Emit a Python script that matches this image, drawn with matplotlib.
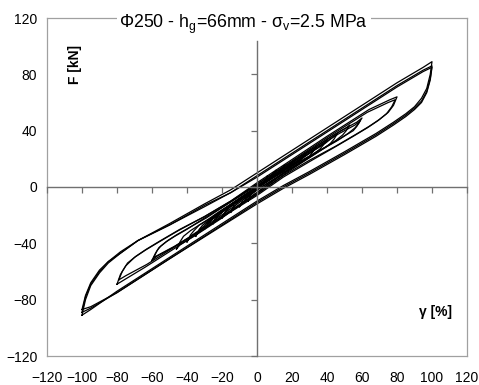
#hysteresis loops F vs shear strain, elastomeric bearing test
import matplotlib.pyplot as plt

plt.rcParams['font.family'] = ['Liberation Sans', 'DejaVu Sans']
plt.rcParams['mathtext.fontset'] = 'custom'
plt.rcParams['mathtext.rm'] = 'Liberation Sans'
plt.rcParams['mathtext.it'] = 'Liberation Sans:italic'

xticks = [-120, -100, -80, -60, -40, -20, 0, 20, 40, 60, 80, 100, 120]
yticks = [-120, -80, -40, 0, 40, 80, 120]

#cycles, gamma [%] and F [kN]: loading branch then unloading branch
x_100 = [-100, -98, -95, -90, -85, -78, -68, -50, -30, -15, 0, 50, 80, 95, 100,
         100, 99, 97, 94, 90, 85, 78, 68, 50, 30, 15, 0, -50, -80, -95, -100]
f_100a = [-91, -80, -70, -61, -54, -47, -38, -26, -12, -2, 10, 50, 74, 85, 89,
          89, 80, 70, 63, 57, 52, 46, 38, 25, 11, 1, -10, -50, -74, -87, -91]
f_100b = [-89, -78, -69, -60, -53, -47, -38, -27, -13, -4, 8, 48, 72, 83, 86,
          86, 77, 68, 61, 56, 51, 45, 37, 24, 10, 0, -11, -51, -75, -86, -89]
f_100c = [-87, -77, -68, -59, -53, -46, -38, -27, -14, -4, 7, 47, 71, 82, 85,
          85, 76, 67, 60, 55, 50, 44, 36, 23, 9, -1, -12, -51, -75, -85, -87]

x_80a = [-80, -78, -75, -70, -64, -56, -45, -30, -15, 0, 40, 64, 76, 80,
         80, 78, 75, 70, 64, 56, 45, 30, 15, 0, -40, -64, -76, -80]
f_80a = [-69, -62, -56, -50, -45, -39, -31, -21, -10, 3, 36, 55, 62, 64,
         64, 58, 53, 48, 43, 37, 29, 19, 8, -5, -38, -57, -66, -69]
x_80b = [-79, -77, -74, -69, -63, -55, -44, -30, -15, 0, 40, 63, 75, 79,
         79, 77, 74, 69, 63, 55, 44, 30, 15, 0, -40, -63, -75, -79]
f_80b = [-66, -60, -54, -49, -44, -38, -30, -21, -10, 2, 35, 53, 60, 62,
         62, 57, 52, 47, 42, 36, 28, 18, 7, -6, -37, -55, -63, -66]

x_60a = [-60, -58, -56, -52, -47, -40, -30, -18, 0, 30, 48, 57, 60,
         60, 58, 56, 52, 47, 40, 30, 18, 0, -30, -48, -57, -60]
f_60a = [-52, -47, -43, -39, -35, -30, -22, -13, 2, 26, 40, 46, 49,
         49, 45, 42, 38, 34, 29, 21, 12, -4, -29, -43, -49, -52]
x_60b = [-59, -57, -55, -51, -46, -39, -29, -18, 0, 30, 47, 56, 59,
         59, 57, 55, 51, 46, 39, 29, 18, 0, -30, -47, -56, -59]
f_60b = [-50, -45, -42, -38, -34, -29, -22, -13, 1, 25, 38, 44, 47,
         47, 43, 40, 37, 33, 28, 20, 11, -5, -29, -42, -48, -50]

x_50 = [-46, -44, -42, -38, -33, -26, -17, -6, 5, 28, 44, 51, 53,
        53, 51, 49, 45, 40, 33, 24, 13, 2, -20, -36, -44, -46]
f_50 = [-44, -39, -35, -31, -27, -22, -14, -5, 5, 24, 37, 42, 44,
        44, 40, 37, 33, 29, 24, 17, 8, -2, -22, -35, -41, -44]

x_40 = [-40, -38, -36, -33, -28, -21, -12, -2, 7, 26, 39, 44, 46,
        46, 44, 42, 39, 34, 27, 18, 8, -1, -18, -31, -38, -40]
f_40 = [-39, -34, -31, -27, -23, -17, -10, -2, 6, 21, 31, 36, 38,
        38, 34, 31, 28, 25, 19, 12, 4, -3, -18, -29, -35, -39]

x_35 = [-35, -33, -31, -28, -24, -17, -9, 0, 8, 24, 35, 39, 40,
        40, 38, 36, 33, 29, 22, 14, 5, -3, -17, -28, -33, -35]
f_35 = [-35, -30, -27, -24, -20, -14, -7, 0, 6, 19, 28, 32, 34,
        34, 30, 27, 24, 21, 15, 9, 2, -4, -15, -25, -31, -35]

x_30 = [-30, -28, -26, -23, -19, -13, -6, 2, 9, 22, 30, 33, 34,
        34, 32, 30, 27, 23, 17, 10, 2, -5, -16, -24, -28, -30]
f_30 = [-30, -26, -23, -20, -16, -11, -5, 1, 7, 17, 24, 27, 29,
        29, 25, 22, 20, 17, 12, 7, 1, -5, -14, -21, -26, -30]

x_25 = [-25, -23, -21, -18, -14, -8, -2, 4, 10, 18, 25, 27, 28,
        28, 26, 24, 21, 17, 11, 5, -1, -7, -14, -20, -24, -25]
f_25 = [-26, -22, -19, -16, -12, -7, -2, 3, 8, 14, 20, 22, 24,
        24, 21, 18, 16, 13, 9, 4, -1, -6, -12, -18, -22, -26]

x_20 = [-20, -18, -16, -13, -9, -5, 0, 5, 10, 15, 20, 22,
        22, 20, 18, 15, 11, 7, 2, -3, -8, -13, -18, -20]
f_20 = [-22, -18, -15, -12, -8, -4, 0, 4, 8, 12, 17, 20,
        20, 17, 14, 12, 8, 5, 1, -3, -7, -11, -17, -22]

x_15 = [-15, -13, -11, -8, -5, 0, 5, 10, 14, 16,
        16, 14, 12, 9, 6, 1, -4, -9, -13, -15]
f_15 = [-18, -14, -11, -8, -5, 0, 4, 8, 12, 16,
        16, 13, 10, 7, 4, 0, -4, -8, -12, -18]

x_10 = [-10, -8, -6, -3, 0, 4, 8, 11, 11, 9, 7, 4, 0, -4, -8, -10]
f_10 = [-14, -11, -8, -5, -1, 3, 7, 12, 12, 9, 6, 3, -2, -5, -9, -14]

x_5 = [-5, -4, -1, 2, 5, 6, 6, 5, 2, -1, -4, -5]
f_5 = [-10, -6, -3, 1, 5, 8, 8, 4, 1, -2, -6, -10]

loops = [(x_100, f_100a), (x_100, f_100b), (x_100, f_100c), (x_80a, f_80a), (x_80b, f_80b),
         (x_60a, f_60a), (x_60b, f_60b), (x_50, f_50), (x_40, f_40), (x_35, f_35), (x_30, f_30),
         (x_25, f_25), (x_20, f_20), (x_15, f_15), (x_10, f_10), (x_5, f_5)]

fig = plt.figure(figsize=(4.79, 3.85), dpi=100)
pos = [47/479, 29/385, 420/479, 338/385]

#outer frame with the tick labels
ax = fig.add_axes(pos)
ax.set_xlim(-120, 120)
ax.set_ylim(-120, 120)
ax.set_xticks(xticks)
ax.set_yticks(yticks)
ax.tick_params(length=0, labelsize=10, colors='black')
ax.tick_params(axis='x', pad=11)
ax.tick_params(axis='y', pad=7)
for s in ax.spines.values():
    s.set_color('#a0a0a0')
    s.set_linewidth(0.9)

for xs, fs in loops:
    ax.plot(xs, fs, color='black', lw=0.9)

#axes crossing at zero
ax2 = fig.add_axes(pos)
ax2.set_xlim(-120, 120)
ax2.set_ylim(-120, 120)
ax2.patch.set_visible(False)
ax2.spines['top'].set_visible(False)
ax2.spines['right'].set_visible(False)
ax2.spines['left'].set_position(('data', 0))
ax2.spines['bottom'].set_position(('data', 0))
ax2.spines['left'].set_bounds(-120, 104)
for s in ['left', 'bottom']:
    ax2.spines[s].set_color('#707070')
    ax2.spines[s].set_linewidth(1.0)
ax2.set_xticks(xticks)
ax2.set_yticks(yticks[:-1])
ax2.tick_params(direction='out', length=4, width=0.9, color='#707070', labelbottom=False, labelleft=False)

ax2.text(-7.5, 115.5, r'Φ250 - h$_\mathregular{g}$=66mm - σ$_\mathregular{v}$=2.5 MPa', fontsize=12.8,
         ha='center', va='center', bbox=dict(facecolor='white', edgecolor='none', pad=2))
ax2.text(-104, 87, 'F [kN]', rotation=90, fontsize=10, fontweight='bold', ha='center', va='center')
ax2.text(102, -89, 'γ [%]', fontsize=10, fontweight='bold', ha='center', va='center')

plt.savefig('out.png', dpi=100)
